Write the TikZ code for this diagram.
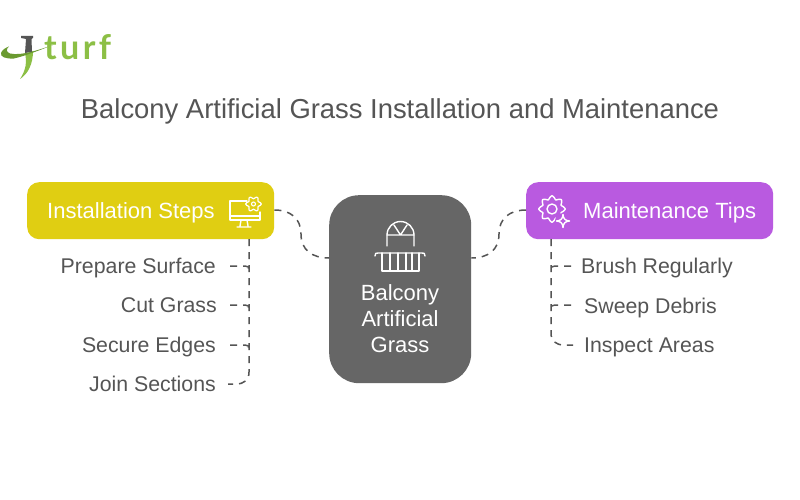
\documentclass[tikz,border=0pt]{standalone}
\usepackage{fontspec}
\setmainfont{Liberation Sans}
\newfontfamily\logofont{Lato}[LetterSpace=10]
\definecolor{ink}{HTML}{555555}
\definecolor{centre}{HTML}{666666}
\definecolor{yel}{HTML}{E0CE12}
\definecolor{pur}{HTML}{B95AE0}
\definecolor{leaf}{HTML}{8CBF45}
\definecolor{leafd}{HTML}{6A9A30}
\tikzset{
  lbl/.style={text=ink,font=\fontsize{21.3}{24}\selectfont,inner sep=0pt},
  lblL/.style={lbl,anchor=base east},
  lblR/.style={lbl,anchor=base west},
  head/.style={text=white,font=\fontsize{22}{24}\selectfont,inner sep=0pt,anchor=base west},
  boxy/.style={rounded corners=12pt,minimum width=247pt,minimum height=57pt,inner sep=0pt},
  conn/.style={draw=ink,line width=1.5pt,dash pattern=on 7pt off 6pt},
  ico/.style={draw=white,line width=1.4pt,line join=round,line cap=round},
}
\begin{document}
\begin{tikzpicture}[x=1pt,y=-1pt]
\useasboundingbox (0,0) rectangle (800,500);
\fill[white] (0,0) rectangle (800,500);
% logo
\fill[ink] (21,36) -- (33,36) -- (33,38) -- (31.5,39) -- (32,52) -- (25,53) -- (26,39) -- (21,38) -- cycle;
\fill[leaf] (25,53) .. controls (28,54) and (30,54) .. (33,51) .. controls (33,64) and (28,74) .. (20,79) .. controls (26,70) and (27,62) .. (25,53) -- cycle;
\fill[leafd] (53,45) .. controls (40,50) and (25,56) .. (14,58.5) .. controls (6,59) and (0,57) .. (1,53) .. controls (2,50) and (5,48) .. (9,46.5) .. controls (6,49) and (6,52) .. (10,53.5) .. controls (22,56) and (38,50) .. (53,45) -- cycle;
\node[anchor=base west,inner sep=0pt,text=leaf,font=\logofont\bfseries\fontsize{34}{36}\selectfont] (logo) at (44,60) {turf};
% title
\node[text=ink,font=\fontsize{27.4}{30}\selectfont,inner sep=0pt,anchor=base] (title) at (400,118) {Balcony Artificial Grass Installation and Maintenance};
% boxes
\node[boxy,fill=yel,anchor=north west] (inst) at (27,182) {};
\node[boxy,fill=pur,anchor=north west] (main) at (526,182) {};
\node[fill=centre,rounded corners=30pt,minimum width=142pt,minimum height=188pt,inner sep=0pt,anchor=north west] (core) at (329,195) {};
\node[head] (instT) at (47,218) {Installation Steps};
\node[head] (mainT) at (583,218) {Maintenance Tips};
\node[text=white,font=\fontsize{22}{26}\selectfont,align=center,inner sep=0pt,anchor=base] (coreT) at (400,352) {Balcony\\Artificial\\Grass};
% labels
\node[lblL] (a1) at (216,273) {Prepare Surface};
\node[lblL] (a2) at (217,312) {Cut Grass};
\node[lblL] (a3) at (216,352) {Secure Edges};
\node[lblL] (a4) at (216,391) {Join Sections};
\node[lblR] (b1) at (581,273) {Brush Regularly};
\node[lblR] (b2) at (584,313) {Sweep Debris};
\node[lblR] (b3) at (584,352.5) {Inspect Areas};
% connectors
\coordinate (aS) at (249,239);
\coordinate (a1e) at (230,266);
\coordinate (a2e) at (230,305);
\coordinate (a3e) at (230,345);
\coordinate (a4e) at (228,384);
\coordinate (bS) at (551,239);
\coordinate (b1e) at (571,266);
\coordinate (b2e) at (571,305);
\coordinate (b3e) at (573,345);
\draw[conn] (inst.east |- 0,210) .. controls (290,210) and (301,218) .. (301,234) .. controls (301,250) and (312,258) .. (core.west |- 0,258);
\draw[conn] (main.west |- 0,210) .. controls (510,210) and (499,218) .. (499,234) .. controls (499,250) and (488,258) .. (core.east |- 0,258);
\draw[conn] (aS) -- (249,372) .. controls (249,380) and (244,384) .. (236,384) -- (a4e);
\draw[conn] (a1e) -- (245,266) .. controls (248,266) and (249,267) .. (249,270);
\draw[conn] (a2e) -- (245,305) .. controls (248,305) and (249,306) .. (249,309);
\draw[conn] (a3e) -- (245,345) .. controls (248,345) and (249,346) .. (249,349);
\draw[conn] (bS) -- (551,333) .. controls (551,341) and (556,345) .. (564,345) -- (b3e);
\draw[conn] (b1e) -- (555,266) .. controls (552,266) and (551,267) .. (551,270);
\draw[conn] (b2e) -- (555,305) .. controls (552,305) and (551,306) .. (551,309);
% monitor icon
\draw[ico] (247,201) -- (230,201) -- (230,220) -- (260,220) -- (260,212);
\draw[ico] (230,216) -- (260,216);
\draw[ico] (241,220) -- (240,226) (247,220) -- (248,226) (237,227) -- (251,227);
\draw[ico,line width=1.2pt] plot[smooth cycle,samples=32,domain=0:348.75,variable=\t] ({253.5+(6.5+1.3*cos(6*\t))*cos(\t)},{204+(6.5+1.3*cos(6*\t))*sin(\t)});
\draw[ico,line width=1.1pt] (253.5,204) circle (2);
% balcony icon
\draw[ico] (387,246) -- (387,235) arc (180:360:13.5) -- (414,246);
\draw[ico] (387,235) -- (414,235) (400.5,235) -- (394,225) (400.5,235) -- (407,225);
\draw[ico] (375,256) .. controls (375,253) and (376,253) .. (378,253) -- (422,253) .. controls (424,253) and (425,253) .. (425,256);
\draw[ico] (382,253) -- (382,271) -- (419,271) -- (419,253);
\draw[ico] (390,253) -- (390,271) (398,253) -- (398,271) (406,253) -- (406,271) (412,253) -- (412,271);
% gear icon
\draw[ico] plot[smooth cycle,samples=32,domain=0:348.75,variable=\t] ({552+(11.5+1.8*cos(8*\t))*cos(\t)},{209+(11.5+1.8*cos(8*\t))*sin(\t)});
\draw[ico] (552,209) circle (5);
\fill[pur] (563,221) circle (8);
\draw[ico] (563,214.5) .. controls (563.5,219) and (565,220.5) .. (569.5,221) .. controls (565,221.5) and (563.5,223) .. (563,227.5) .. controls (562.5,223) and (561,221.5) .. (556.5,221) .. controls (561,220.5) and (562.5,219) .. (563,214.5) -- cycle;
\end{tikzpicture}
\end{document}
